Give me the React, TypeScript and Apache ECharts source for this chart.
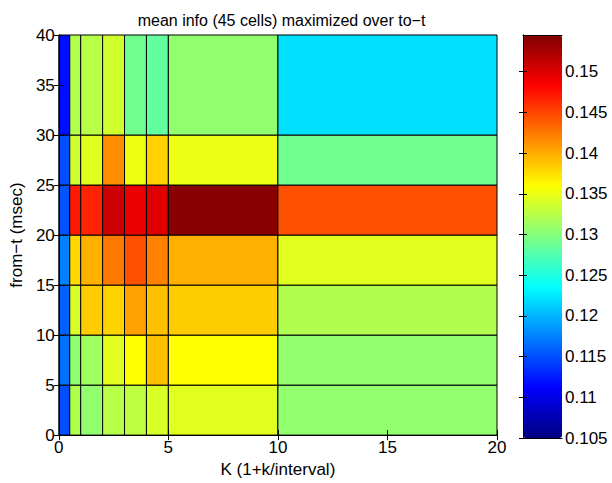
import React, { useEffect, useRef } from "react";
import * as echarts from "echarts";

// Cell edges along K and from-t
const xEdges = [0, 0.5, 1, 2, 3, 4, 5, 10, 20];
const yEdges = [0, 5, 10, 15, 20, 25, 30, 40];

// Mean info per cell, one row per from-t band (bottom to top), one entry per K band
const row0to5 = [0.115, 0.1321, 0.1306, 0.1325, 0.1328, 0.1341, 0.1345, 0.1306];
const row5to10 = [0.1166, 0.1305, 0.1313, 0.1345, 0.1359, 0.139, 0.1359, 0.1306];
const row10to15 = [0.1159, 0.1341, 0.1384, 0.1381, 0.1405, 0.139, 0.1384, 0.1321];
const row15to20 = [0.1174, 0.1378, 0.1398, 0.1425, 0.1445, 0.1421, 0.1398, 0.1345];
const row20to25 = [0.1152, 0.147, 0.1466, 0.1508, 0.1492, 0.1499, 0.1541, 0.1445];
const row25to30 = [0.115, 0.1335, 0.1345, 0.1414, 0.1352, 0.1382, 0.135, 0.129];
const row30to40 = [0.1118, 0.1322, 0.1325, 0.1337, 0.129, 0.1283, 0.1306, 0.1221];
const rows = [row0to5, row5to10, row10to15, row15to20, row20to25, row25to30, row30to40];

// Colour scale range and tick labels
const cMin = 0.105;
const cMax = 0.1545;
const cTicks = [0.105, 0.11, 0.115, 0.12, 0.125, 0.13, 0.135, 0.14, 0.145, 0.15];

const xTicks = [0, 5, 10, 15, 20];
const yTicks = [0, 5, 10, 15, 20, 25, 30, 35, 40];

// jet colormap anchors, evenly spaced in eighths
const jet = [
  "#000080",
  "#0000FF",
  "#0080FF",
  "#00FFFF",
  "#80FF80",
  "#FFFF00",
  "#FF8000",
  "#FF0000",
  "#800000",
];

const FONT = "Liberation Sans, Arial, Helvetica, sans-serif";
const FS = 17;

export default function App() {
  const ref = useRef<HTMLDivElement>(null);

  useEffect(() => {
    if (!ref.current) return;
    const chart = echarts.init(ref.current, undefined, { renderer: "svg" });

    const cells: number[][] = [];
    rows.forEach((row, j) => {
      row.forEach((v, i) => {
        cells.push([xEdges[i], xEdges[i + 1], yEdges[j], yEdges[j + 1], v]);
      });
    });

    const plot = { left: 56, top: 35, width: 441, height: 403 };
    const bar = { left: 523, top: 35, width: 39, height: 403 };

    const tickStyle = { show: true, inside: true, length: 5, lineStyle: { color: "#000", width: 1 } };
    const lineStyle = { show: true, lineStyle: { color: "#000", width: 1 } };
    const labelStyle = { color: "#000", fontSize: FS, fontFamily: FONT };

    const cLabel = (v: number) => {
      const r = Math.round(v * 1000) / 1000;
      return cTicks.some((t) => Math.abs(t - r) < 1e-9) && Math.abs(v - r) < 1e-6 ? String(r) : "";
    };

    chart.setOption({
      animation: false,
      backgroundColor: "#fff",
      title: {
        text: "mean info (45 cells) maximized over to\u2212t",
        left: plot.left + plot.width / 2,
        top: 7,
        textAlign: "center",
        textStyle: { color: "#000", fontSize: 16, fontWeight: "normal", fontFamily: FONT },
      },
      grid: [
        { ...plot, show: false, containLabel: false },
        { ...bar, show: false, containLabel: false },
      ],
      xAxis: [
        {
          type: "value",
          gridIndex: 0,
          min: 0,
          max: 20,
          interval: 5,
          position: "bottom",
          name: "K (1+k/interval)",
          nameLocation: "middle",
          nameGap: 21,
          nameTextStyle: labelStyle,
          axisLine: lineStyle,
          axisTick: tickStyle,
          axisLabel: { ...labelStyle, margin: 4, formatter: (v: number) => (xTicks.includes(v) ? String(v) : "") },
          splitLine: { show: false },
          z: 10,
        },
        {
          type: "value",
          gridIndex: 0,
          min: 0,
          max: 20,
          interval: 5,
          position: "top",
          axisLine: lineStyle,
          axisTick: tickStyle,
          axisLabel: { show: false },
          splitLine: { show: false },
          z: 10,
        },
        {
          type: "value",
          gridIndex: 1,
          min: 0,
          max: 1,
          position: "bottom",
          axisLine: lineStyle,
          axisTick: { show: false },
          axisLabel: { show: false },
          splitLine: { show: false },
          z: 10,
        },
        {
          type: "value",
          gridIndex: 1,
          min: 0,
          max: 1,
          position: "top",
          axisLine: lineStyle,
          axisTick: { show: false },
          axisLabel: { show: false },
          splitLine: { show: false },
          z: 10,
        },
      ],
      yAxis: [
        {
          type: "value",
          gridIndex: 0,
          min: 0,
          max: 40,
          interval: 5,
          position: "left",
          name: "from\u2212t (msec)",
          nameLocation: "middle",
          nameGap: 27,
          nameTextStyle: labelStyle,
          axisLine: lineStyle,
          axisTick: tickStyle,
          axisLabel: { ...labelStyle, margin: 4, formatter: (v: number) => (yTicks.includes(v) ? String(v) : "") },
          splitLine: { show: false },
          z: 10,
        },
        {
          type: "value",
          gridIndex: 0,
          min: 0,
          max: 40,
          interval: 5,
          position: "right",
          axisLine: lineStyle,
          axisTick: tickStyle,
          axisLabel: { show: false },
          splitLine: { show: false },
          z: 10,
        },
        {
          type: "value",
          gridIndex: 1,
          min: cMin,
          max: cMax,
          interval: 0.005,
          position: "left",
          axisLine: lineStyle,
          axisTick: { ...tickStyle, length: 4 },
          axisLabel: { show: false },
          splitLine: { show: false },
          z: 10,
        },
        {
          type: "value",
          gridIndex: 1,
          min: cMin,
          max: cMax,
          interval: 0.005,
          position: "right",
          axisLine: lineStyle,
          axisTick: { ...tickStyle, length: 4 },
          axisLabel: { ...labelStyle, margin: 3, showMaxLabel: false, formatter: cLabel },
          splitLine: { show: false },
          z: 10,
        },
      ],
      visualMap: {
        type: "continuous",
        seriesIndex: 0,
        dimension: 4,
        min: cMin,
        max: cMax,
        orient: "vertical",
        left: bar.left,
        top: bar.top,
        itemWidth: bar.width,
        itemHeight: bar.height,
        padding: 0,
        calculable: false,
        hoverLink: false,
        text: null,
        inRange: { color: jet },
      },
      series: [
        {
          type: "custom",
          xAxisIndex: 0,
          yAxisIndex: 0,
          encode: { x: [0, 1], y: [2, 3] },
          data: cells,
          renderItem: (params: any, api: any) => {
            const p0 = api.coord([api.value(0), api.value(2)]);
            const p1 = api.coord([api.value(1), api.value(3)]);
            return {
              type: "rect",
              shape: { x: p0[0], y: p1[1], width: p1[0] - p0[0], height: p0[1] - p1[1] },
              style: { fill: api.visual("color"), stroke: "#000", lineWidth: 1 },
            };
          },
        },
      ],
    });

    return () => chart.dispose();
  }, []);

  return (
    <div
      ref={ref}
      style={{ position: "fixed", left: 0, top: 0, width: 612, height: 483 }}
    />
  );
}
